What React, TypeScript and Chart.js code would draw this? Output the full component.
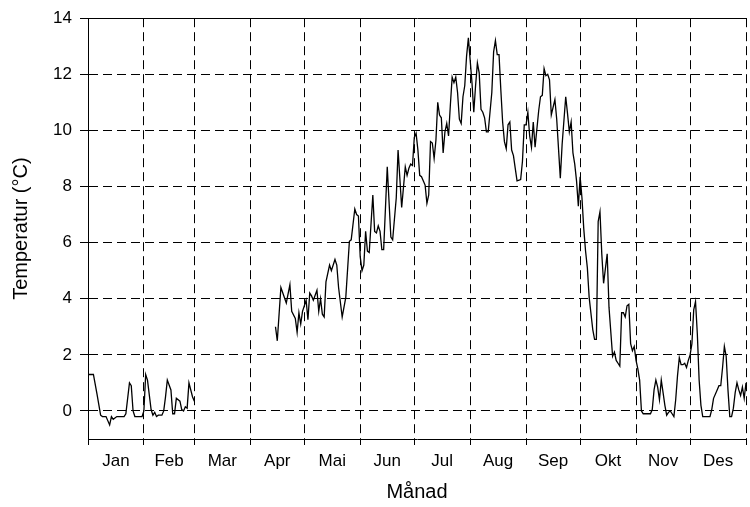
import React, { useEffect, useRef } from "react";
import { Chart, registerables } from "chart.js";

Chart.register(...registerables);

// Month names and the day-of-year on which each month starts (plus year end)
const monthNames = ["Jan", "Feb", "Mar", "Apr", "Mai", "Jun", "Jul", "Aug", "Sep", "Okt", "Nov", "Des"];
const monthStartDays = [0, 31, 59, 90, 120, 151, 181, 212, 243, 273, 304, 334, 365];
const temperatureTicks = [0, 2, 4, 6, 8, 10, 12, 14];

// Daily mean temperature, January–February
const winterDays = [
  0, 3, 5, 7, 8, 10, 12, 13, 14, 16, 20, 21, 23, 24, 25, 26, 30, 31, 32, 33,
  35, 36, 37, 38, 39, 41, 42, 43, 44, 46, 47, 48, 49, 51, 52, 53, 54, 55, 56, 58, 59,
];
const winterTemps = [
  1.3, 1.3, 0.6, -0.15, -0.2, -0.2, -0.5, -0.2, -0.3, -0.2, -0.2, -0.1, 1.0, 0.9, 0, -0.2, -0.2, 0, 1.3, 1.1,
  0.05, -0.15, -0.05, -0.2, -0.15, -0.15, 0, 0.5, 1.1, 0.75, -0.1, -0.1, 0.45, 0.35, 0.05, 0, 0.15, 0.1, 1.0, 0.5, 0.35,
];

// Daily mean temperature, mid-April – December
const seasonDays = [
  104, 105, 106, 107, 110, 112, 113, 115, 116, 117, 118, 119, 121, 122, 123, 124, 125, 127, 128, 129,
  130, 131, 132, 134, 135, 137, 138, 139, 141, 143, 145, 146, 148, 149, 150, 151, 152, 153, 154, 155,
  156, 158, 159, 160, 161, 162, 163, 164, 166, 168, 169, 171, 172, 174, 176, 177, 178, 179, 180, 181,
  182, 183, 184, 185, 187, 188, 189, 190, 191, 192, 193, 194, 195, 196, 197, 198, 199, 200, 201, 202,
  203, 204, 205, 206, 207, 208, 209, 210, 211, 212, 213, 214, 215, 216, 217, 218, 219, 220, 221, 222,
  224, 225, 226, 227, 228, 229, 230, 231, 232, 233, 234, 235, 236, 237, 238, 240, 241, 242, 243, 244,
  245, 246, 247, 248, 250, 251, 252, 253, 254, 255, 256, 257, 259, 260, 262, 263, 265, 266, 267, 268,
  269, 270, 271, 272, 273, 274, 275, 276, 277, 278, 280, 281, 282, 283, 284, 285, 286, 288, 289, 291,
  292, 293, 294, 295, 296, 297, 298, 299, 300, 301, 302, 303, 304, 305, 306, 307, 308, 312, 313, 314,
  315, 316, 317, 318, 319, 320, 321, 322, 323, 324, 325, 326, 327, 328, 329, 330, 331, 332, 333, 334,
  335, 336, 337, 338, 339, 340, 341, 345, 346, 347, 349, 350, 351, 352, 353, 354, 355, 356, 357, 358,
  359, 360, 361, 362, 363, 364, 365,
];
const seasonTemps = [
  3.0, 2.5, 3.45, 4.4, 3.85, 4.5, 3.55, 3.3, 2.8, 3.5, 3.1, 3.55, 3.95, 3.25, 4.2, 4.1, 3.95, 4.3, 3.55, 4.0,
  3.45, 3.35, 4.6, 5.2, 5.0, 5.4, 5.2, 4.4, 3.35, 4.05, 6.05, 6.1, 7.2, 7.0, 6.95, 5.5, 5.0, 5.2, 6.4, 5.7,
  5.65, 7.7, 6.4, 6.35, 6.6, 6.4, 5.75, 5.75, 8.7, 6.2, 6.1, 7.6, 9.3, 7.25, 8.7, 8.4, 8.65, 8.8, 8.75, 9.75,
  9.9, 9.3, 8.4, 8.35, 8.05, 7.4, 7.7, 9.6, 9.55, 9.0, 9.65, 11.0, 10.55, 10.45, 9.2, 9.95, 10.25, 9.8, 10.9, 11.9,
  11.7, 11.9, 11.35, 10.4, 10.25, 11.2, 11.6, 12.65, 13.3, 12.5, 11.7, 10.65, 11.6, 12.4, 12.05, 10.75, 10.65, 10.45, 9.95, 9.95,
  11.35, 12.8, 13.2, 12.7, 12.7, 11.45, 10.3, 9.6, 9.35, 10.2, 10.3, 9.3, 9.1, 8.65, 8.2, 8.25, 8.9, 10.2, 10.2, 10.65,
  9.8, 9.4, 10.3, 9.4, 10.7, 11.2, 11.25, 12.2, 11.95, 12.0, 11.8, 10.55, 11.1, 10.4, 8.3, 9.5, 11.2, 10.6, 9.95, 10.3,
  9.2, 8.8, 8.2, 7.3, 8.35, 7.6, 6.5, 5.7, 5.1, 4.05, 2.9, 2.55, 2.55, 6.75, 7.1, 5.6, 4.55, 5.6, 3.7, 1.95,
  2.1, 1.8, 1.7, 1.6, 3.5, 3.5, 3.35, 3.75, 3.8, 2.4, 2.15, 2.3, 1.8, 1.5, 1.1, 0, -0.1, -0.1, 0.05, 0.75,
  1.1, 0.85, 0.4, 1.1, 0.65, 0.2, -0.15, -0.05, 0, -0.1, -0.2, 0.4, 1.25, 1.9, 1.65, 1.65, 1.7, 1.55, 1.8, 2.0,
  2.4, 3.6, 3.9, 2.75, 1.1, 0.2, -0.2, -0.2, 0.05, 0.45, 0.75, 0.9, 0.9, 1.55, 2.3, 1.95, 0.75, -0.2, -0.2, 0.1,
  0.65, 1.0, 0.75, 0.55, 0.85, 0.45, 1.0,
];

const FONT = "'Liberation Sans', Arial, Helvetica, sans-serif";

const toPoints = (days: number[], temps: number[]) => days.map((d, i) => ({ x: d, y: temps[i] }));

// Month label positions sit in the middle of each month
const monthMidDays = monthNames.map((_, i) => (monthStartDays[i] + monthStartDays[i + 1]) / 2);

export default function App() {
  const canvasRef = useRef<HTMLCanvasElement | null>(null);

  useEffect(() => {
    const canvas = canvasRef.current;
    if (!canvas) return;

    const isBoundary = (v: number | undefined) => v !== undefined && monthStartDays.includes(v);

    const lineStyle = {
      borderColor: "#000",
      borderWidth: 1.3,
      pointRadius: 0,
      tension: 0,
      fill: false,
    };

    const chart = new Chart(canvas, {
      type: "line",
      data: {
        datasets: [
          { ...lineStyle, label: "Jan–Feb", data: toPoints(winterDays, winterTemps) },
          { ...lineStyle, label: "Apr–Des", data: toPoints(seasonDays, seasonTemps) },
        ],
      },
      options: {
        responsive: false,
        animation: false,
        devicePixelRatio: 1,
        layout: { padding: { top: 15, left: 0, right: 0, bottom: 0 } },
        plugins: {
          legend: { display: false },
          tooltip: { enabled: false },
        },
        scales: {
          x: {
            type: "linear",
            position: "bottom",
            min: 0,
            max: 365,
            afterBuildTicks: (scale: any) => {
              const values = [...monthStartDays, ...monthMidDays].sort((a, b) => a - b);
              scale.ticks = values.map((v) => ({ value: v }));
            },
            afterFit: (scale: any) => {
              scale.height = 68;
            },
            ticks: {
              autoSkip: false,
              maxRotation: 0,
              minRotation: 0,
              padding: 6,
              color: "#000",
              font: { family: FONT, size: 17 },
              callback: (value: any) => {
                const idx = monthMidDays.indexOf(Number(value));
                return idx >= 0 ? monthNames[idx] : "";
              },
            },
            grid: {
              color: (ctx: any) => (isBoundary(ctx.tick?.value) ? "#000" : "rgba(0,0,0,0)"),
              tickColor: (ctx: any) => (isBoundary(ctx.tick?.value) ? "#000" : "rgba(0,0,0,0)"),
              tickLength: 6,
              lineWidth: 1,
            },
            border: { display: true, color: "#000", width: 1, dash: [9, 5] },
            title: {
              display: true,
              text: "Månad",
              color: "#000",
              font: { family: FONT, size: 20 },
              padding: { top: 0, bottom: 3 },
            },
          },
          xTop: {
            type: "linear",
            position: "top",
            min: 0,
            max: 365,
            ticks: { display: false },
            grid: { display: false, drawTicks: false },
            border: { display: true, color: "#000", width: 1 },
            afterFit: (scale: any) => {
              scale.height = 0;
            },
          },
          y: {
            type: "linear",
            position: "left",
            min: -1,
            max: 14,
            afterBuildTicks: (scale: any) => {
              scale.ticks = temperatureTicks.map((v) => ({ value: v }));
            },
            afterFit: (scale: any) => {
              scale.width = 88;
            },
            ticks: {
              padding: 8,
              color: "#000",
              font: { family: FONT, size: 17 },
            },
            grid: {
              color: (ctx: any) => (ctx.tick?.value === 14 ? "rgba(0,0,0,0)" : "#000"),
              tickColor: "#000",
              tickLength: 8,
              lineWidth: 1,
            },
            border: { display: true, color: "#000", width: 1, dash: [9, 5] },
            title: {
              display: true,
              text: "Temperatur (°C)",
              color: "#000",
              font: { family: FONT, size: 20 },
              padding: { top: 9, bottom: 0 },
            },
          },
        },
      },
    } as any);

    return () => chart.destroy();
  }, []);

  return (
    <div
      style={{
        position: "fixed",
        left: 0,
        top: 0,
        width: 750,
        height: 507,
        overflow: "hidden",
        background: "#fff",
      }}
    >
      <canvas ref={canvasRef} width={752} height={507} style={{ display: "block", width: 752, height: 507 }} />
    </div>
  );
}
